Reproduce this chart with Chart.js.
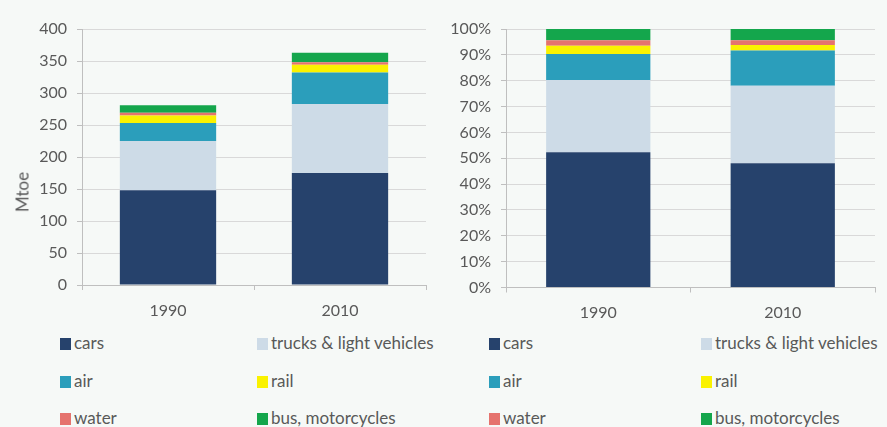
<!DOCTYPE html>
<html>
<head>
<meta charset="utf-8">
<script src="https://cdn.jsdelivr.net/npm/chart.js@4"></script>
<style>
body{margin:0;background:#f6f9f7;font-family:Lato,sans-serif;}
#wrap{position:relative;width:887px;height:427px;overflow:hidden;}
canvas{position:absolute;top:0;}
#Left{left:0;}
#Right{left:440px;}
.lg{position:absolute;font-size:17px;color:#595959;white-space:nowrap;line-height:18px;}
.lg span{display:inline-block;width:11px;height:12px;margin-right:3px;vertical-align:-1px;}
#mtoe{position:absolute;left:22px;top:192px;transform:translate(-50%,-50%) rotate(-90deg);font-size:17px;color:#595959;}
</style>
</head>
<body>
<div id="wrap">
<canvas id="Left" width="440" height="320"></canvas>
<canvas id="Right" width="447" height="320"></canvas>
<div id="mtoe">Mtoe</div>
</div>
<script>
var years = ['1990','2010'];
var modes = ['cars','trucks & light vehicles','air','rail','water','bus, motorcycles'];
var colors = ['#26426c','#cddbe7','#2b9ebb','#faf200','#e5736e','#14a64c'];

// Mtoe
var carsMtoe   = [148,175];
var trucksMtoe = [77,108];
var airMtoe    = [28,49];
var railMtoe   = [12,12];
var waterMtoe  = [4,4];
var busMtoe    = [12,15];

// share in %
var carsPct   = [52.3,48.1];
var trucksPct = [28.0,29.9];
var airPct    = [10.0,13.7];
var railPct   = [3.2,2.1];
var waterPct  = [2.1,1.8];
var busPct    = [4.4,4.4];

var leftTicks = [0,50,100,150,200,250,300,350,400];
var rightTicks = [0,10,20,30,40,50,60,70,80,90,100];

function sets(list,bp){
  var arr=[];
  for(var i=0;i<list.length;i++){
    arr.push({label:modes[i],data:list[i],backgroundColor:colors[i],borderWidth:0,
      barPercentage:bp,categoryPercentage:1});
  }
  return arr;
}

var tickFont={family:'Lato',size:16};
var gray='#595959';

function opts(yw,xh,pad,ymax,step,fmt){
  return {
    responsive:false,animation:false,
    layout:{padding:pad},
    plugins:{legend:{display:false},tooltip:{enabled:false}},
    scales:{
      x:{stacked:true,
        grid:{offset:true,drawOnChartArea:false,tickLength:5,color:'#bfbfbf'},
        border:{color:'#bfbfbf'},
        ticks:{font:tickFont,color:gray,padding:11},
        afterFit:function(s){s.height=xh;}
      },
      y:{stacked:true,min:0,max:ymax,
        ticks:{stepSize:step,font:tickFont,color:gray,padding:10,callback:fmt},
        grid:{color:'#d9d9d9',tickLength:5,tickColor:'#bfbfbf'},
        border:{color:'#bfbfbf'},
        afterFit:function(s){s.width=yw;}
      }
    }
  };
}

new Chart(document.getElementById('Left').getContext('2d'),{
  type:'bar',
  data:{labels:years,datasets:sets([carsMtoe,trucksMtoe,airMtoe,railMtoe,waterMtoe,busMtoe],0.56)},
  options:opts(82,35,{top:29,right:14,left:0,bottom:0},leftTicks[leftTicks.length-1],50,function(v){return v;})
});

new Chart(document.getElementById('Right').getContext('2d'),{
  type:'bar',
  data:{labels:years,datasets:sets([carsPct,trucksPct,airPct,railPct,waterPct,busPct],0.565)},
  options:opts(66,32.5,{top:29,right:12,left:0,bottom:0},rightTicks[rightTicks.length-1],10,function(v){return v+'%';})
});

// legends, two columns each
var colX=[[60,257],[489,701]];
var rowY=[343,381,418];
var wrap=document.getElementById('wrap');
for(var c=0;c<2;c++){
  for(var i=0;i<modes.length;i++){
    var d=document.createElement('div');
    d.className='lg';
    d.style.left=colX[c][i%2]+'px';
    d.style.top=(rowY[Math.floor(i/2)]-9)+'px';
    d.innerHTML='<span style="background:'+colors[i]+'"></span>'+modes[i].replace('&','&amp;');
    wrap.appendChild(d);
  }
}
</script>
</body>
</html>
